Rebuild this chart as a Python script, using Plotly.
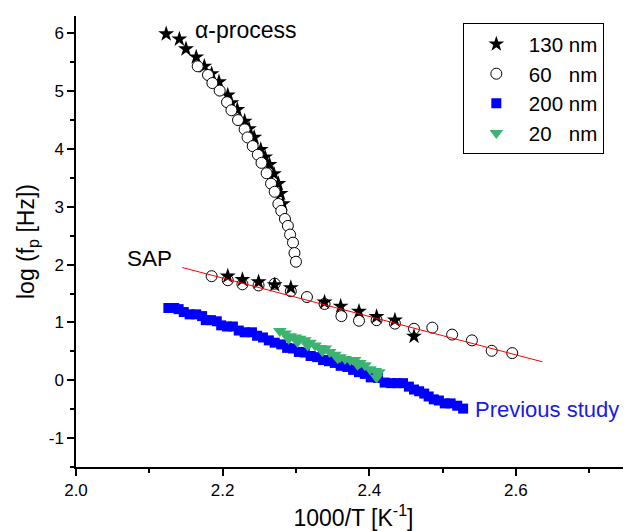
import plotly.graph_objects as go

FONT = "Arial, Liberation Sans, sans-serif"

# 130 nm (stars) - alpha process
star_alpha_x = [2.123, 2.141, 2.150, 2.164, 2.175, 2.185, 2.195, 2.207, 2.212, 2.220, 2.230, 2.236,
                2.243, 2.252, 2.258, 2.264, 2.270, 2.276, 2.279, 2.282]
star_alpha_y = [5.99, 5.90, 5.73, 5.59, 5.43, 5.30, 5.16, 4.93, 4.80, 4.68, 4.48, 4.35,
                4.20, 3.99, 3.86, 3.73, 3.57, 3.40, 3.23, 3.05]
# 130 nm (stars) - SAP
star_sap_x = [2.207, 2.227, 2.249, 2.271, 2.293, 2.339, 2.361, 2.386, 2.410, 2.435, 2.461]
star_sap_y = [1.80, 1.74, 1.70, 1.65, 1.60, 1.35, 1.28, 1.19, 1.10, 1.04, 0.76]

# 60 nm (open circles)
circ_x = [2.166, 2.180, 2.186, 2.196, 2.206, 2.212, 2.221, 2.230, 2.234, 2.241, 2.248, 2.253,
          2.260, 2.266, 2.271, 2.276, 2.280, 2.285, 2.289, 2.292, 2.296, 2.298, 2.300,
          2.185, 2.207, 2.227, 2.249, 2.271, 2.293, 2.315, 2.339, 2.362, 2.386, 2.410,
          2.435, 2.461, 2.486, 2.513, 2.540, 2.567, 2.595]
circ_y = [5.43, 5.28, 5.14, 5.01, 4.81, 4.67, 4.50, 4.34, 4.20, 4.05, 3.90, 3.76,
          3.58, 3.40, 3.26, 3.05, 2.93, 2.79, 2.67, 2.52, 2.38, 2.20, 2.05,
          1.80, 1.73, 1.66, 1.64, 1.67, 1.54, 1.44, 1.32, 1.11, 1.03, 1.04,
          0.98, 0.89, 0.91, 0.79, 0.69, 0.51, 0.47]

# 200 nm (blue squares, previous study)
sq_x = [2.126, 2.134, 2.140, 2.147, 2.155, 2.164, 2.172, 2.177, 2.184, 2.192, 2.198, 2.206,
        2.214, 2.222, 2.230, 2.240, 2.247, 2.255, 2.263, 2.271, 2.280, 2.288, 2.296, 2.304,
        2.312, 2.320, 2.329, 2.337, 2.345, 2.353, 2.361, 2.370, 2.378, 2.386, 2.394, 2.402,
        2.412, 2.421, 2.430, 2.438, 2.446, 2.454, 2.461, 2.468, 2.475, 2.481, 2.488, 2.495,
        2.503, 2.511, 2.520, 2.528]
sq_y = [1.25, 1.25, 1.23, 1.18, 1.14, 1.14, 1.11, 1.04, 1.04, 1.02, 0.95, 0.93,
        0.93, 0.86, 0.83, 0.83, 0.77, 0.74, 0.69, 0.65, 0.62, 0.56, 0.55, 0.49,
        0.48, 0.42, 0.40, 0.35, 0.33, 0.30, 0.25, 0.23, 0.18, 0.14, 0.11, 0.05,
        0.04, -0.04, -0.05, -0.05, -0.05, -0.11, -0.16, -0.19, -0.23, -0.28, -0.33, -0.35,
        -0.40, -0.40, -0.44, -0.49]

# 20 nm (green down-triangles)
tri_x = [2.278, 2.285, 2.290, 2.292, 2.299, 2.302, 2.305, 2.312, 2.316, 2.319, 2.326, 2.333,
         2.336, 2.340, 2.346, 2.353, 2.357, 2.360, 2.367, 2.374, 2.380, 2.384, 2.387, 2.394,
         2.401, 2.408, 2.410, 2.413]
tri_y = [0.85, 0.81, 0.72, 0.76, 0.74, 0.66, 0.72, 0.69, 0.60, 0.65, 0.60, 0.56,
         0.50, 0.55, 0.49, 0.44, 0.38, 0.40, 0.37, 0.35, 0.35, 0.27, 0.30, 0.26,
         0.19, 0.16, 0.05, 0.14]

# SAP linear fit
fit_x = [2.145, 2.636]
fit_y = [1.95, 0.32]

# tick labels
x_tickvals = [2.0, 2.2, 2.4, 2.6]
x_ticktext = ["2.0", "2.2", "2.4", "2.6"]
y_tickvals = [-1, 0, 1, 2, 3, 4, 5, 6]
y_ticktext = ["-1", "0", "1", "2", "3", "4", "5", "6"]

fig = go.Figure()

fig.add_trace(go.Scatter(x=star_alpha_x, y=star_alpha_y, mode="markers", showlegend=False,
                         marker=dict(symbol="star", size=12, color="black", line=dict(width=0))))
fig.add_trace(go.Scatter(x=circ_x, y=circ_y, mode="markers", name="60\u00a0\u00a0\u00a0nm", legendrank=2,
                         marker=dict(symbol="circle", size=11, color="white",
                                     line=dict(color="black", width=1))))
fig.add_trace(go.Scatter(x=star_sap_x, y=star_sap_y, mode="markers", name="130 nm", legendrank=1,
                         marker=dict(symbol="star", size=12, color="black", line=dict(width=0))))
fig.add_trace(go.Scatter(x=fit_x, y=fit_y, mode="lines", showlegend=False,
                         line=dict(color="red", width=1)))
fig.add_trace(go.Scatter(x=sq_x, y=sq_y, mode="markers", name="200 nm", legendrank=3,
                         marker=dict(symbol="square", size=10, color="#0000ff", line=dict(width=0))))
fig.add_trace(go.Scatter(x=tri_x, y=tri_y, mode="markers", name="20\u00a0\u00a0\u00a0nm", legendrank=4,
                         marker=dict(symbol="triangle-down", size=12, color="#3cb371", line=dict(width=0))))

fig.add_annotation(x=2.232, y=6.06, text="\u03b1-process", showarrow=False,
                   font=dict(size=23, color="black", family=FONT))
fig.add_annotation(x=2.100, y=2.11, text="SAP", showarrow=False,
                   font=dict(size=22.5, color="black", family=FONT))
fig.add_annotation(x=2.542, y=-0.51, text="Previous study", showarrow=False, xanchor="left",
                   font=dict(size=22, color="#1a1ae6", family=FONT))

axis_common = dict(showline=True, linecolor="black", linewidth=1.5, ticks="outside",
                   ticklen=7, tickwidth=1.5, tickcolor="black", showgrid=False, zeroline=False,
                   mirror=False, automargin=False, tickmode="array",
                   tickfont=dict(size=17, color="black", family=FONT))

fig.update_xaxes(range=[2.0, 2.757], tickvals=x_tickvals, ticktext=x_ticktext,
                 minor=dict(tickmode="linear", tick0=2.0, dtick=0.1, ticks="outside", ticklen=4,
                            tickcolor="black", tickwidth=1.5),
                 title=dict(text="1000/T [K<sup>-1</sup>]", font=dict(size=23, color="black", family=FONT)),
                 **axis_common)
fig.update_yaxes(range=[-1.5, 6.3], tickvals=y_tickvals, ticktext=y_ticktext,
                 minor=dict(tickmode="linear", tick0=0, dtick=0.5, ticks="outside", ticklen=4,
                            tickcolor="black", tickwidth=1.5),
                 title=dict(text="log (f<sub>p</sub> [Hz])", font=dict(size=23, color="black", family=FONT),
                            standoff=8),
                 **axis_common)

# the page body adds an 8 px offset, so the figure is 8 px smaller and margins shifted
fig.update_layout(
    width=623, height=523,
    margin=dict(l=68, r=0, t=8, b=64),
    plot_bgcolor="white", paper_bgcolor="white",
    font=dict(family=FONT, color="black"),
    legend=dict(x=0.697, y=0.984, xanchor="left", yanchor="top",
                bordercolor="black", borderwidth=1, bgcolor="white",
                font=dict(size=20.5, color="black", family=FONT),
                itemwidth=55, tracegroupgap=0),
)

fig.write_html("out.html")
